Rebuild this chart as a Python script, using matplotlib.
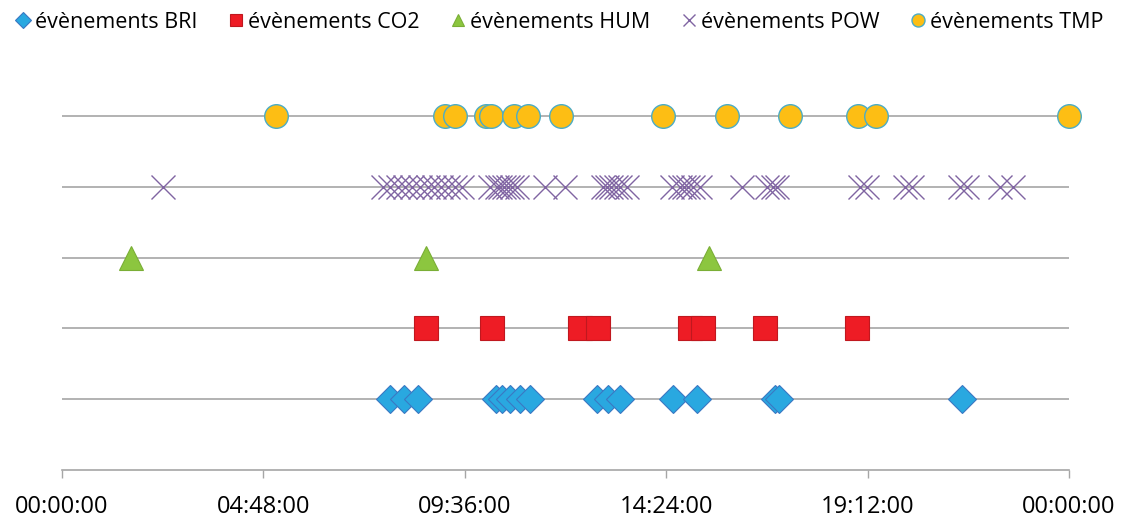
import numpy as np
import matplotlib.pyplot as plt

# event times in hours of the day (24 = midnight next day)
tmp_hours = [5.10, 9.13, 9.37, 10.11, 10.23, 10.77, 11.11, 11.89, 14.32, 15.85,
             17.35, 18.97, 19.40, 24.0]
pow_hours = [2.41, 7.65, 7.82, 8.01, 8.17, 8.34, 8.53, 8.72, 8.87, 9.03, 9.20,
             9.37, 9.53, 10.20, 10.37, 10.44, 10.53, 10.63, 10.73, 10.84, 11.51,
             11.99, 12.89, 12.99, 13.08, 13.20, 13.30, 13.47, 14.54, 14.73,
             14.82, 14.92, 15.04, 15.21, 16.21, 16.80, 16.95, 17.04, 19.02,
             19.19, 20.09, 20.26, 21.40, 21.57, 22.36, 22.67]
hum_hours = [1.64, 8.68, 15.42]
co2_hours = [8.68, 10.25, 12.35, 12.77, 14.97, 15.28, 16.75, 18.95]
bri_hours = [7.82, 8.15, 8.48, 10.34, 10.49, 10.68, 10.92, 11.15, 12.75, 13.01,
             13.30, 14.56, 15.13, 16.99, 17.09, 21.45]

tick_hours = [0, 4.8, 9.6, 14.4, 19.2, 24]
tick_labels = ['00:00:00', '04:48:00', '09:36:00', '14:24:00', '19:12:00', '00:00:00']

plt.rcParams['font.family'] = ['Open Sans', 'DejaVu Sans']

fig = plt.figure(figsize=(11.21, 5.17), dpi=100)
ax = fig.add_axes([62 / 1121, 1 - 470 / 517, (1069 - 62) / 1121, 425 / 517])

for y in range(1, 6):
    ax.axhline(y, color='#A6A6A6', lw=1.2, zorder=1)

ax.plot(bri_hours, [1] * len(bri_hours), 'D', ms=14.5, color='#29A8E0',
        mec='#3A78C3', mew=0.8, ls='none', label='évènements BRI', zorder=3)
ax.plot(co2_hours, [2] * len(co2_hours), 's', ms=17, color='#EE1C25',
        mec='#C0181F', mew=0.8, ls='none', label='évènements CO2', zorder=3)
ax.plot(hum_hours, [3] * len(hum_hours), '^', ms=17, color='#8CC63F',
        mec='#7AAE36', mew=0.8, ls='none', label='évènements HUM', zorder=3)
ax.plot(pow_hours, [4] * len(pow_hours), 'x', ms=17, color='#8064A2',
        mew=1.0, ls='none', label='évènements POW', zorder=3)
ax.plot(tmp_hours, [5] * len(tmp_hours), 'o', ms=17, color='#FDBE14',
        mec='#4BACC6', mew=1.0, ls='none', label='évènements TMP', zorder=3,
        clip_on=False)

ax.set_xlim(0, 24)
ax.set_ylim(0, 6)
ax.set_yticks([])
ax.set_xticks(tick_hours)
ax.set_xticklabels(tick_labels, fontsize=17)
ax.tick_params(axis='x', length=6, width=1, color='#A6A6A6', pad=12)
for side in ['top', 'right', 'left']:
    ax.spines[side].set_visible(False)
ax.spines['bottom'].set_color('#A6A6A6')
ax.spines['bottom'].set_linewidth(1.2)

handles, labels = ax.get_legend_handles_labels()
leg = fig.legend(handles, labels, loc='center', bbox_to_anchor=(0.5, 1 - 22 / 517),
                 ncol=5, frameon=False, fontsize=15.5, markerscale=0.55,
                 handlelength=0.5, handletextpad=0.3, columnspacing=1.55)

fig.savefig('out.png', dpi=100)
